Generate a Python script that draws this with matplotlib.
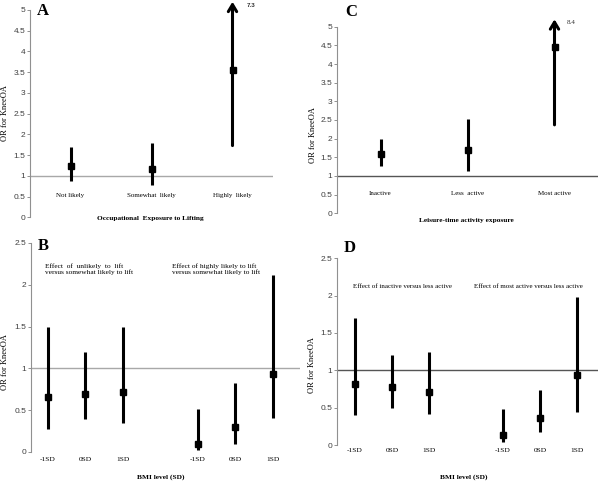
import numpy as np
import matplotlib.pyplot as plt

plt.rcParams['font.family'] = ['Liberation Serif', 'DejaVu Serif']

# panel A: occupational exposure to lifting
a_labels = ["Not likely", "Somewhat  likely", "Highly  likely"]
a_or = [1.23, 1.17, 3.55]
a_lo = [0.88, 0.78, 1.73]
a_hi = [1.70, 1.79, 7.3]

# panel C: leisure-time activity
c_labels = ["Inactive", "Less  active", "Most active"]
c_or = [1.60, 1.69, 4.46]
c_lo = [1.27, 1.14, 2.37]
c_hi = [1.98, 2.52, 8.4]

# panels B and D: effects by BMI level
bmi_labels = ["-1SD", "0SD", "1SD", "-1SD", "0SD", "1SD"]
bmi_pos = [0, 1, 2, 4, 5, 6]
b_or = [0.66, 0.69, 0.72, 0.10, 0.30, 0.93]
b_lo = [0.28, 0.40, 0.35, 0.02, 0.10, 0.41]
b_hi = [1.50, 1.20, 1.49, 0.52, 0.83, 2.12]
d_or = [0.82, 0.77, 0.71, 0.14, 0.36, 0.94]
d_lo = [0.40, 0.49, 0.41, 0.04, 0.18, 0.44]
d_hi = [1.70, 1.20, 1.24, 0.48, 0.73, 1.98]

W, H = 600, 482
SANS = 'Liberation Sans'
LW = 2.2
MS = 4
ARROW_TOP = 5.2   # where the open-ended CI arrow stops (axis max is 5)


def rect(x0, y_top, x1, y_bot):
    return [x0 / W, 1 - y_bot / H, (x1 - x0) / W, (y_bot - y_top) / H]


def ftext(x, y, s, **kw):
    fig.text(x / W, 1 - y / H, s, **kw)


def style_axis(ax, ymax, ref_color):
    ax.set_ylim(0, ymax)
    ax.set_yticks(np.arange(0, ymax + 0.01, 0.5))
    ax.set_yticklabels([f"{v:g}" for v in np.arange(0, ymax + 0.01, 0.5)],
                       fontfamily=SANS, fontsize=6, color='#404040')
    for s in ['top', 'right', 'bottom']:
        ax.spines[s].set_visible(False)
    ax.spines['left'].set_color('#909090')
    ax.spines['left'].set_linewidth(0.8)
    ax.tick_params(axis='y', length=2.5, width=0.7, color='#909090', pad=1)
    ax.tick_params(axis='x', length=0)
    ax.axhline(1, color=ref_color, lw=1, zorder=1)


def draw_ci(ax, pos, est, lo, hi):
    for x, e, l, h in zip(pos, est, lo, hi):
        if h > ARROW_TOP:
            ax.annotate('', xy=(x, ARROW_TOP), xytext=(x, l),
                        arrowprops=dict(arrowstyle='->,head_length=0.5,head_width=0.3',
                                        lw=LW, color='black', shrinkA=0, shrinkB=0),
                        annotation_clip=False)
        else:
            ax.plot([x, x], [l, h], color='black', lw=LW, solid_capstyle='butt', zorder=3)
        ax.plot(x, e, marker='s', ms=MS, color='black', zorder=4)


fig = plt.figure(figsize=(6, 4.82), dpi=100)

# ---- A
axA = fig.add_axes(rect(30, 10, 273, 217.3))
style_axis(axA, 5, '#a8a8a8')
axA.set_xlim(-0.5, 2.5)
axA.spines['bottom'].set_position(('data', 1))
axA.set_xticks(range(3))
axA.set_xticklabels(a_labels, fontsize=5)
axA.tick_params(axis='x', pad=12.5)
draw_ci(axA, range(3), a_or, a_lo, a_hi)
axA.text(2 + 0.17, 5.12, f"{a_hi[2]:g}", fontfamily=SANS, fontsize=4.5,
         fontweight='bold', ha='left', va='center', color='#333333')
axA.text(0.494, -0.008, "Occupational  Exposure to Lifting", transform=axA.transAxes,
         ha='center', va='center', fontsize=5.3, fontweight='bold')
axA.text(-0.103, 0.503, "OR for KneeOA", transform=axA.transAxes, rotation=90,
         ha='center', va='center', fontsize=6)

# ---- C
axC = fig.add_axes(rect(337, 26.7, 598, 213.3))
style_axis(axC, 5, '#555555')
axC.set_xlim(-0.5, 2.5)
axC.spines['bottom'].set_position(('data', 1))
axC.set_xticks(range(3))
axC.set_xticklabels(c_labels, fontsize=5)
axC.tick_params(axis='x', pad=10.5)
draw_ci(axC, range(3), c_or, c_lo, c_hi)
axC.text(2 + 0.14, ARROW_TOP - 0.1, f"{c_hi[2]:g}", fontsize=5,
         ha='left', va='center', color='#333333')
axC.text(0.494, -0.036, "Leisure-time activity exposure", transform=axC.transAxes,
         ha='center', va='center', fontsize=5.3, fontweight='bold')
axC.text(-0.092, 0.42, "OR for KneeOA", transform=axC.transAxes, rotation=90,
         ha='center', va='center', fontsize=6)

# ---- B
axB = fig.add_axes(rect(31, 243, 300, 452))
style_axis(axB, 2.5, '#a8a8a8')
axB.set_xlim(-0.45, 6.72)
axB.set_xticks(bmi_pos)
axB.set_xticklabels(bmi_labels, fontsize=5.3)
axB.tick_params(axis='x', pad=3.5)
draw_ci(axB, bmi_pos, b_or, b_lo, b_hi)
axB.text(0.483, -0.12, "BMI level (SD)", transform=axB.transAxes,
         ha='center', va='center', fontsize=5.3, fontweight='bold')
axB.text(-0.097, 0.43, "OR for KneeOA", transform=axB.transAxes, rotation=90,
         ha='center', va='center', fontsize=6)

# ---- D
axD = fig.add_axes(rect(337, 258.3, 598, 445))
style_axis(axD, 2.5, '#555555')
axD.set_xlim(-0.486, 6.57)
axD.set_xticks(bmi_pos)
axD.set_xticklabels(bmi_labels, fontsize=5.3)
axD.tick_params(axis='x', pad=2)
draw_ci(axD, bmi_pos, d_or, d_lo, d_hi)
axD.text(0.487, -0.171, "BMI level (SD)", transform=axD.transAxes,
         ha='center', va='center', fontsize=5.3, fontweight='bold')
axD.text(-0.096, 0.43, "OR for KneeOA", transform=axD.transAxes, rotation=90,
         ha='center', va='center', fontsize=6)

# panel letters and annotations
for x, y, s in [(43, 11, 'A'), (351, 12, 'C'), (43, 246, 'B'), (350, 248, 'D')]:
    ftext(x, y, s, fontsize=12, fontweight='bold', ha='center', va='center')

note_kw = dict(fontsize=5.3, ha='left', va='center', linespacing=1.15)
ftext(45, 269, "Effect  of  unlikely  to  lift\nversus somewhat likely to lift", **note_kw)
ftext(172, 269, "Effect of highly likely to lift\nversus somewhat likely to lift", **note_kw)
note_kw['fontsize'] = 5.0
ftext(353, 287, "Effect of inactive versus less active", **note_kw)
ftext(474, 287, "Effect of most active versus less active", **note_kw)

fig.savefig('out.png', dpi=100, facecolor='white')
